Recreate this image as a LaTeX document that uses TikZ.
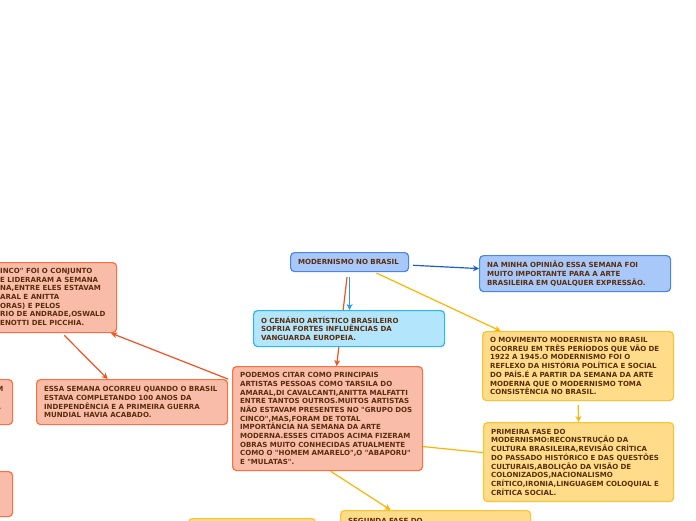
\documentclass[tikz,border=0pt]{standalone}
\usepackage{fontspec}
\setmainfont{DejaVu Sans}[Ligatures=TeXOff]
\usetikzlibrary{arrows.meta}
\definecolor{mapInk}{HTML}{5A2E0C}
\definecolor{salmonFill}{HTML}{F9BCA8}
\definecolor{salmonEdge}{HTML}{FF6E40}
\definecolor{blueFill}{HTML}{A8C8FA}
\definecolor{blueEdge}{HTML}{4A86E8}
\definecolor{cyanFill}{HTML}{B3E5FC}
\definecolor{cyanEdge}{HTML}{29B6F6}
\definecolor{goldFill}{HTML}{FFDC8A}
\definecolor{goldEdge}{HTML}{FFC12E}
\definecolor{blueLink}{HTML}{1C5FCF}
\definecolor{cyanLink}{HTML}{1E9FE8}
\definecolor{salmonLink}{HTML}{F4511E}
\definecolor{goldLink}{HTML}{FFB300}

\begin{document}
\begin{tikzpicture}[x=1pt,y=-1pt,
  topic/.style={draw, rounded corners=4pt, line width=1.2pt, anchor=north west,
    align=left, inner xsep=7.5pt, inner ysep=0pt, text=mapInk,
    font=\fontsize{7.05}{8.7}\selectfont\bfseries},
  salmon/.style={topic, fill=salmonFill, draw=salmonEdge},
  bluebox/.style={topic, fill=blueFill, draw=blueEdge},
  cyanbox/.style={topic, fill=cyanFill, draw=cyanEdge},
  gold/.style={topic, fill=goldFill, draw=goldEdge},
  link/.style={line width=1.2pt, -{Stealth[length=6pt,width=6pt]}}]
  \useasboundingbox (0,0) rectangle (696,520);
  \clip (0,0) rectangle (696,520);

  % Central topic and its right side
  \node[bluebox, text width=103pt, minimum height=19pt] (modernismo) at (290,252)
    {MODERNISMO NO BRASIL};
  \node[bluebox, text width=176pt, minimum height=36pt] (opiniao) at (479,255)
    {NA MINHA OPINIÃO ESSA SEMANA FOI\\
     MUITO IMPORTANTE PARA A ARTE\\
     BRASILEIRA EM QUALQUER EXPRESSÃO.};
  \node[gold, text width=176pt, minimum height=69pt] (movimento) at (482,331)
    {O MOVIMENTO MODERNISTA NO BRASIL\\
     OCORREU EM TRÊS PERÍODOS QUE VÃO DE\\
     1922 A 1945.O MODERNISMO FOI O\\
     REFLEXO DA HISTÓRIA POLÍTICA E SOCIAL\\
     DO PAÍS.É A PARTIR DA SEMANA DA ARTE\\
     MODERNA QUE O MODERNISMO TOMA\\
     CONSISTÊNCIA NO BRASIL.};
  \node[gold, text width=175pt, minimum height=79pt] (primeira) at (483,422)
    {PRIMEIRA FASE DO\\
     MODERNISMO:RECONSTRUÇÃO DA\\
     CULTURA BRASILEIRA,REVISÃO CRÍTICA\\
     DO PASSADO HISTÓRICO E DAS QUESTÕES\\
     CULTURAIS,ABOLIÇÃO DA VISÃO DE\\
     COLONIZADOS,NACIONALISMO\\
     CRÍTICO,IRONIA,LINGUAGEM COLOQUIAL E\\
     CRÍTICA SOCIAL.};

  % Artists branch
  \node[salmon, text width=175pt, minimum height=104pt] (podemos) at (232,366)
    {PODEMOS CITAR COMO PRINCIPAIS\\
     ARTISTAS PESSOAS COMO TARSILA DO\\
     AMARAL,DI CAVALCANTI,ANITTA MALFATTI\\
     ENTRE TANTOS OUTROS.MUITOS ARTISTAS\\
     NÃO ESTAVAM PRESENTES NO "GRUPO DOS\\
     CINCO",MAS,FORAM DE TOTAL\\
     IMPORTÂNCIA NA SEMANA DA ARTE\\
     MODERNA.ESSES CITADOS ACIMA FIZERAM\\
     OBRAS MUITO CONHECIDAS ATUALMENTE\\
     COMO O "HOMEM AMARELO",O "ABAPORU"\\
     E "MULATAS".};
  \node[salmon, text width=176pt, minimum height=45pt] (essa) at (36,379)
    {ESSA SEMANA OCORREU QUANDO O BRASIL\\
     ESTAVA COMPLETANDO 100 ANOS DA\\
     INDEPENDÊNCIA E A PRIMEIRA GUERRA\\
     MUNDIAL HAVIA ACABADO.};
  \node[salmon, minimum width=190pt, minimum height=70pt] (grupo) at (-74,262) {};
  \node[anchor=north west, align=left, inner sep=0pt, text=mapInk,
    font=\fontsize{7.05}{8.7}\selectfont\bfseries] (grupotext) at (0,268)
    {INCO" FOI O CONJUNTO\\
     E LIDERARAM A SEMANA\\
     NA,ENTRE ELES ESTAVAM\\
     ARAL E ANITTA\\
     ORAS) E PELOS\\
     RIO DE ANDRADE,OSWALD\\
     ENOTTI DEL PICCHIA.};

  % Boxes cut by the page edge
  \node[salmon, minimum width=132pt, minimum height=45pt] (leftA) at (-120,379) {};
  \node[anchor=north east, inner sep=0pt, text=mapInk,
    font=\fontsize{7.05}{8.7}\selectfont\bfseries] (leftAm) at (3.5,386) {M};
  \node[anchor=north east, inner sep=0pt, text=mapInk,
    font=\fontsize{7.05}{8.7}\selectfont\bfseries] (leftAdot) at (1.5,408) {.};
  \node[salmon, minimum width=132pt, minimum height=45pt] (leftB) at (-120,471) {};
  \node[gold, text width=175pt, inner ysep=8pt] (segunda) at (340,510)
    {SEGUNDA FASE DO};
  \node[gold, minimum width=127pt, minimum height=30pt] (rodape) at (188,518) {};

  % Connectors (drawn before the box they pass behind)
  \draw[link, blueLink, shorten <=4pt]
    ([yshift=-3pt]modernismo.east) -- ([yshift=5pt]opiniao.west);
  \draw[link, salmonLink, shorten <=5pt]
    ([xshift=-2pt]modernismo.south) -- ([xshift=9pt]podemos.north);
  \draw[link, goldLink, shorten <=2pt]
    ([xshift=25pt]modernismo.south) -- ([xshift=-77.5pt]movimento.north);
  \draw[link, goldLink, shorten <=4pt] (movimento.south) -- (primeira.north);
  \draw[line width=1.2pt, goldLink]
    ([yshift=-28pt]podemos.east) -- ([yshift=9.5pt]primeira.west);
  \draw[link, goldLink] ([xshift=3pt]podemos.south) -- ([xshift=-45pt]segunda.north);
  \draw[link, salmonLink, shorten <=4pt]
    ([yshift=38pt]podemos.west) -- ([xshift=-6pt]grupo.south east);
  \draw[link, salmonLink, shorten <=3pt]
    ([xshift=-55pt]grupo.south east) -- ([xshift=-24.5pt]essa.north);

  \node[cyanbox, text width=176pt, minimum height=36pt] (cenario) at (253,310)
    {O CENÁRIO ARTÍSTICO BRASILEIRO\\
     SOFRIA FORTES INFLUÊNCIAS DA\\
     VANGUARDA EUROPEIA.};
  \draw[link, cyanLink, shorten <=5pt]
    (modernismo.south) -- (modernismo.south |- cenario.north);
\end{tikzpicture}
\end{document}
